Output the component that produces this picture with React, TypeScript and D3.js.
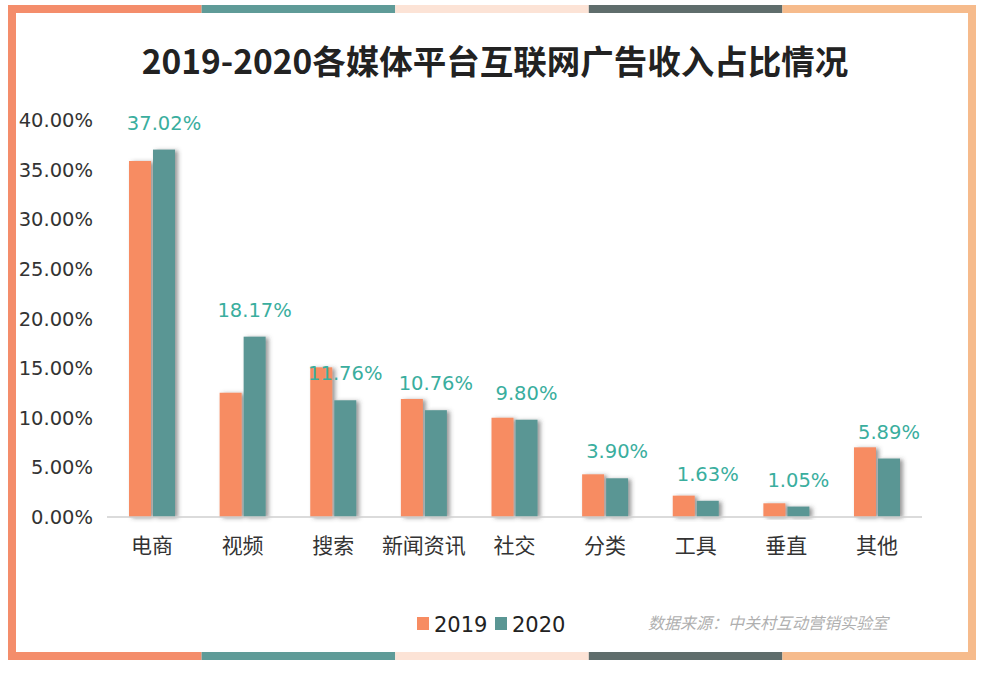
import React from "react";
import * as d3 from "d3";

const categories = ["电商", "视频", "搜索", "新闻资讯", "社交", "分类", "工具", "垂直", "其他"];
const values2019 = [35.87, 12.52, 15.08, 11.89, 10.0, 4.3, 2.15, 1.38, 7.02];
const values2020 = [37.02, 18.17, 11.76, 10.76, 9.8, 3.9, 1.63, 1.05, 5.89];
const yTicks = [0, 5, 10, 15, 20, 25, 30, 35, 40];
const seriesNames = ["2019", "2020"];
const title = "2019-2020各媒体平台互联网广告收入占比情况";
const source = "数据来源：中关村互动营销实验室";

const W = 986;
const H = 676;
const C_ORANGE = "#F78C62";
const C_TEAL = "#5A9694";
const C_LABEL = "#3AAE9E";
const stripeColors = ["#F48D6B", "#5F9B98", "#FCE3D6", "#5F6D6C", "#F6BB8C"];

export default function App() {
  const y = d3.scaleLinear().domain([0, 40]).range([517, 120]);
  const x = d3.scaleBand<string>().domain(categories).range([106.7, 922.3]).padding(0);
  const bw = x.bandwidth();
  const fx0 = 8, fx1 = 976, fy0 = 5, fy1 = 660, th = 8;
  const segW = (fx1 - fx0) / stripeColors.length;
  const numFont = "'DejaVu Sans', sans-serif";
  const cjkFont = "'Noto Sans CJK SC', sans-serif";

  return (
    <svg width={W} height={H} style={{ position: "absolute", left: 0, top: 0, background: "#fff" }}>
      <defs>
        <filter id="shadow" x="-30%" y="-10%" width="180%" height="130%">
          <feDropShadow dx="3" dy="1" stdDeviation="2" floodColor="#444" floodOpacity="0.55" />
        </filter>
      </defs>
      <rect x={0} y={0} width={W} height={H} fill="#fff" />
      {/* frame */}
      {stripeColors.map((c, i) => (
        <rect key={"t" + i} x={fx0 + i * segW} y={fy0} width={segW} height={th} fill={c} />
      ))}
      {stripeColors.map((c, i) => (
        <rect key={"b" + i} x={fx0 + i * segW} y={fy1 - th} width={segW} height={th} fill={c} />
      ))}
      <rect x={fx0} y={fy0} width={th} height={fy1 - fy0} fill={stripeColors[0]} />
      <rect x={fx1 - th} y={fy0} width={th} height={fy1 - fy0} fill={stripeColors[4]} />

      {/* title */}
      <text x={495} y={74} textAnchor="middle" fontFamily={cjkFont} fontWeight="bold" fontSize={33.5} fill="#222">
        {title}
      </text>

      {/* y axis labels */}
      {yTicks.map((t) => (
        <text key={t} x={93} y={y(t) + 7} textAnchor="end" fontFamily={numFont} fontSize={19.5} fill="#333">
          {t.toFixed(2) + "%"}
        </text>
      ))}

      {/* bars */}
      {categories.map((c, i) => {
        const cx = (x(c) as number) + bw / 2;
        return (
          <g key={c} filter="url(#shadow)">
            <rect x={cx - 23} y={y(values2019[i])} width={22} height={y(0) - y(values2019[i])} fill={C_ORANGE} />
            <rect x={cx + 1} y={y(values2020[i])} width={22} height={y(0) - y(values2020[i])} fill={C_TEAL} />
          </g>
        );
      })}

      {/* axis line */}
      <line x1={107} x2={922} y1={517} y2={517} stroke="#CFCFCF" strokeWidth={1.5} />

      {/* value labels */}
      {categories.map((c, i) => {
        const cx = (x(c) as number) + bw / 2 + 12;
        return (
          <text key={"v" + c} x={cx} y={y(values2020[i]) - 20} textAnchor="middle" fontFamily={numFont} fontSize={19.5} fill={C_LABEL}>
            {values2020[i].toFixed(2) + "%"}
          </text>
        );
      })}

      {/* category labels */}
      {categories.map((c) => (
        <text key={"c" + c} x={(x(c) as number) + bw / 2} y={553} textAnchor="middle" fontFamily={cjkFont} fontSize={21} fill="#333">
          {c}
        </text>
      ))}

      {/* legend */}
      <rect x={417} y={617} width={12} height={13} fill={C_ORANGE} />
      <text x={434} y={632} fontFamily={numFont} fontSize={21} fill="#222">{seriesNames[0]}</text>
      <rect x={495} y={617} width={12} height={13} fill={C_TEAL} />
      <text x={512} y={632} fontFamily={numFont} fontSize={21} fill="#222">{seriesNames[1]}</text>

      {/* source */}
      <text x={648} y={629} fontFamily={cjkFont} fontStyle="italic" fontSize={16} fill="#AFAFAF">
        {source}
      </text>
    </svg>
  );
}
